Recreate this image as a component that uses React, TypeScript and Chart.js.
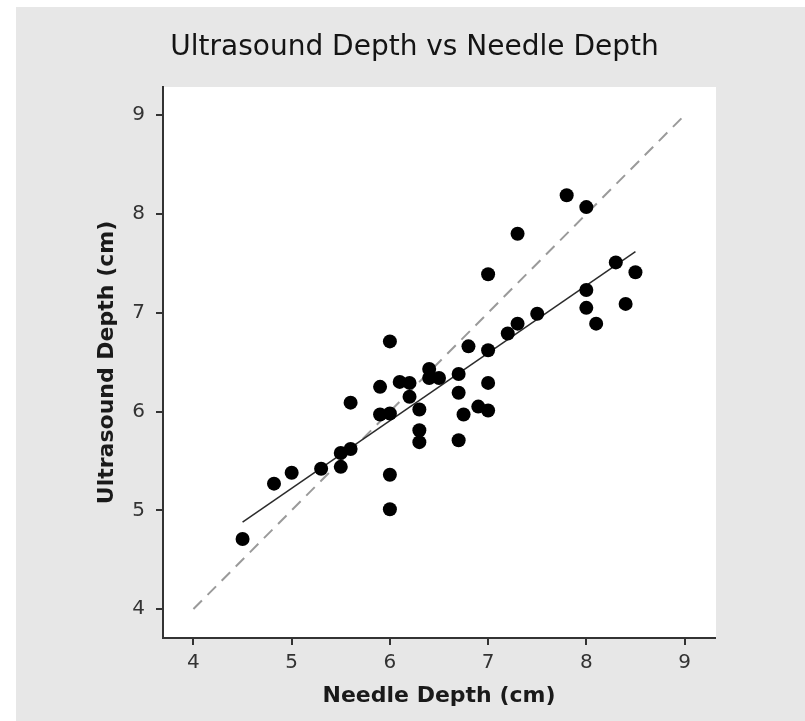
import { useEffect, useRef } from "react";
import { Chart, registerables } from "chart.js";

Chart.register(...registerables);

const chartTitle = "Ultrasound Depth vs Needle Depth";
const xAxisTitle = "Needle Depth (cm)";
const yAxisTitle = "Ultrasound Depth (cm)";
const xTickValues = [4, 5, 6, 7, 8, 9];
const yTickValues = [4, 5, 6, 7, 8, 9];

const needleDepth = [
  4.5, 4.82, 5.0, 5.3, 5.5, 5.5, 5.6, 5.6, 5.9, 5.9,
  6.0, 6.0, 6.0, 6.0, 6.1, 6.2, 6.2, 6.3, 6.3, 6.3,
  6.4, 6.4, 6.5, 6.7, 6.7, 6.7, 6.75, 6.8, 6.9, 7.0,
  7.0, 7.0, 7.0, 7.2, 7.3, 7.3, 7.5, 7.8, 8.0, 8.0,
  8.0, 8.1, 8.3, 8.4, 8.5,
];
const ultrasoundDepth = [
  4.71, 5.27, 5.38, 5.42, 5.58, 5.44, 5.62, 6.09, 6.25, 5.97,
  5.98, 6.71, 5.36, 5.01, 6.3, 6.29, 6.15, 6.02, 5.81, 5.69,
  6.43, 6.34, 6.34, 6.38, 6.19, 5.71, 5.97, 6.66, 6.05, 6.01,
  6.29, 6.62, 7.39, 6.79, 6.89, 7.8, 6.99, 8.19, 8.07, 7.23,
  7.05, 6.89, 7.51, 7.09, 7.41,
];
const fitLineX = [4.5, 8.5];
const fitLineY = [4.88, 7.62];
const identityX = [4, 9];
const identityY = [4, 9];

export default function App() {
  const canvasRef = useRef<HTMLCanvasElement | null>(null);

  useEffect(() => {
    const canvas = canvasRef.current;
    if (!canvas) return;

    const bgPlugin = {
      id: "bgPlugin",
      beforeDraw(chart: any) {
        const { ctx, chartArea } = chart;
        ctx.save();
        ctx.fillStyle = "#ffffff";
        ctx.fillRect(0, 0, chart.width, chart.height);
        ctx.fillStyle = "#e7e7e7";
        ctx.fillRect(16, 7, chart.width - 16, chart.height - 7);
        ctx.fillStyle = "#ffffff";
        ctx.fillRect(
          chartArea.left,
          chartArea.top,
          chartArea.right - chartArea.left + 1,
          chartArea.bottom - chartArea.top
        );
        ctx.restore();
      },
      afterDraw(chart: any) {
        const { ctx } = chart;
        ctx.save();
        ctx.font = '28px "DejaVu Sans"';
        ctx.fillStyle = "#141414";
        ctx.textAlign = "center";
        ctx.textBaseline = "middle";
        ctx.fillText(chartTitle, 414.5, 48);
        ctx.restore();
      },
    };

    const tickFont = { family: '"DejaVu Sans"', size: 20 };
    const titleFont = { family: '"DejaVu Sans"', size: 22, weight: "bold" as const };

    const chart = new Chart(canvas, {
      type: "scatter",
      data: {
        datasets: [
          {
            label: "Observations",
            data: needleDepth.map((x, i) => ({ x, y: ultrasoundDepth[i] })),
            backgroundColor: "#000000",
            borderWidth: 0,
            pointRadius: 7,
          },
          {
            label: "Fit",
            data: fitLineX.map((x, i) => ({ x, y: fitLineY[i] })),
            showLine: true,
            borderColor: "#2b2b2b",
            borderWidth: 1.5,
            pointRadius: 0,
          },
          {
            label: "Identity",
            data: identityX.map((x, i) => ({ x, y: identityY[i] })),
            showLine: true,
            borderColor: "#9a9a9a",
            borderWidth: 2,
            borderDash: [12, 8],
            pointRadius: 0,
          },
        ],
      },
      options: {
        responsive: false,
        animation: false,
        layout: { padding: { left: 94, right: 90, top: 87, bottom: 12 } },
        plugins: {
          legend: { display: false },
          tooltip: { enabled: false },
          title: { display: false },
        },
        scales: {
          x: {
            type: "linear",
            min: 3.69,
            max: 9.31,
            afterBuildTicks: (scale: any) => {
              scale.ticks = xTickValues.map((v) => ({ value: v }));
            },
            afterFit: (scale: any) => {
              scale.height = 71;
            },
            grid: {
              drawOnChartArea: false,
              drawTicks: true,
              tickLength: 7,
              color: "#333333",
              lineWidth: 2,
            },
            border: { display: true, color: "#333333", width: 2 },
            ticks: { color: "#333333", font: tickFont, padding: 6 },
            title: {
              display: true,
              text: xAxisTitle,
              color: "#1a1a1a",
              font: titleFont,
              padding: 0,
            },
          },
          y: {
            type: "linear",
            min: 3.707,
            max: 9.286,
            afterBuildTicks: (scale: any) => {
              scale.ticks = yTickValues.map((v) => ({ value: v }));
            },
            afterFit: (scale: any) => {
              scale.width = 69;
            },
            grid: {
              drawOnChartArea: false,
              drawTicks: true,
              tickLength: 7,
              color: "#333333",
              lineWidth: 2,
            },
            border: { display: true, color: "#333333", width: 2 },
            ticks: { color: "#333333", font: tickFont, padding: 11 },
            title: {
              display: true,
              text: yAxisTitle,
              color: "#1a1a1a",
              font: titleFont,
              padding: 0,
            },
          },
        },
      },
      plugins: [bgPlugin],
    });

    return () => {
      chart.destroy();
    };
  }, []);

  return (
    <div style={{ position: "absolute", left: 0, top: 0, width: 805, height: 721 }}>
      <canvas ref={canvasRef} width={805} height={721} style={{ width: 805, height: 721, display: "block" }} />
    </div>
  );
}
